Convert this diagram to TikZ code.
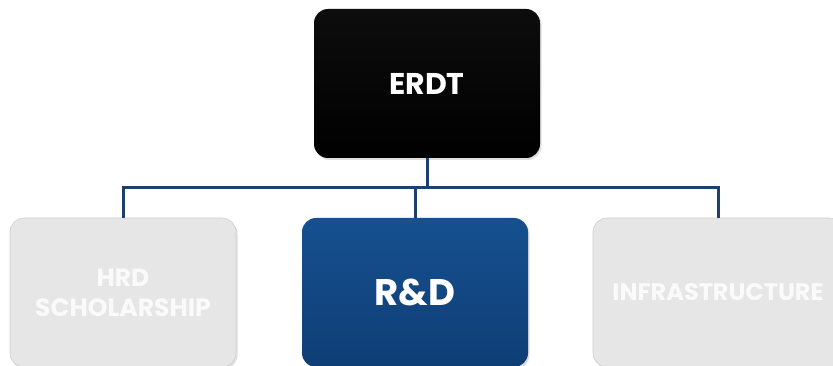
\documentclass[tikz,border=0pt]{standalone}
\usepackage{fontspec}
\setmainfont{Poppins}
\usepackage{tikz}
\usetikzlibrary{shadows}

\definecolor{linkblue}{HTML}{1F3F6E}
\definecolor{rdtop}{HTML}{16508F}
\definecolor{rdbot}{HTML}{0F3E76}
\definecolor{boxgray}{HTML}{E6E6E6}
\definecolor{boxedge}{HTML}{CFCFCF}

\begin{document}
\begin{tikzpicture}[x=1pt,y=-1pt]
\tikzset{
  unit/.style={rounded corners=14pt, minimum width=226pt, minimum height=149pt,
    inner sep=0pt, align=center, font=\bfseries, text=white,
    drop shadow={shadow xshift=1.5pt, shadow yshift=-2pt, opacity=0.25}},
  topunit/.style={unit, top color=black!95, bottom color=black},
  activeunit/.style={unit, top color=rdtop, bottom color=rdbot},
  idleunit/.style={unit, fill=boxgray, draw=boxedge, line width=0.6pt, text=white!96!gray},
  link/.style={draw=linkblue, line width=3pt}
}
\useasboundingbox (0,0) rectangle (833,366);
\clip (0,0) rectangle (833,366);

\node[topunit, font=\bfseries\fontsize{30}{36}\selectfont] (erdt) at (427,83.5) {ERDT};
\node[idleunit, font=\bfseries\fontsize{25}{30}\selectfont] (hrd) at (123,292.5) {HRD\\SCHOLARSHIP};
\node[activeunit, font=\bfseries\fontsize{37}{44}\selectfont] (rnd) at (415,292.5) {R\&D};
\node[idleunit, minimum width=250pt, font=\bfseries\fontsize{24}{29}\selectfont] (infra) at (718,292.5) {INFRASTRUCTURE};

\coordinate (bar) at (427,188);
\draw[link] (erdt.south) -- (bar);
\draw[link, line cap=rect] (bar -| hrd.north) -- (bar -| infra.north);
\draw[link] (bar -| hrd.north) -- (hrd.north);
\draw[link] (bar -| rnd.north) -- (rnd.north);
\draw[link] (bar -| infra.north) -- (infra.north);
\end{tikzpicture}
\end{document}
